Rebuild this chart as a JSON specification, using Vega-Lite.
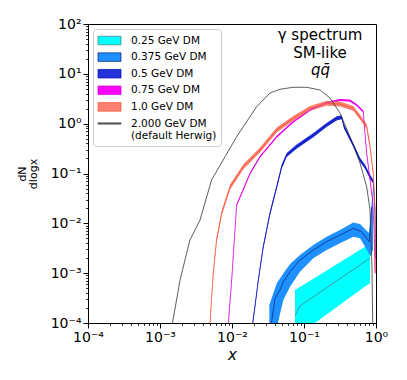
{
  "$schema": "https://vega.github.io/schema/vega-lite/v6.json",
  "width": 288,
  "height": 299,
  "autosize": {"type": "none"},
  "padding": {"left": 88, "top": 24, "right": 31, "bottom": 57},
  "background": "white",
  "config": {
    "view": {"stroke": "black", "strokeWidth": 1},
    "font": "DejaVu Sans",
    "legend": {
      "orient": "top-left",
      "offset": 5,
      "padding": 4,
      "fillColor": "rgba(255,255,255,0.85)",
      "strokeColor": "#cccccc",
      "cornerRadius": 3,
      "symbolSize": 196,
      "symbolOffset": 5,
      "labelOffset": 14,
      "labelFont": "DejaVu Sans",
      "labelFontSize": 10.5,
      "labelColor": "black",
      "rowPadding": 2.6,
      "symbolStrokeWidth": 0,
      "symbolStrokeColor": "transparent"
    }
  },
  "datasets": {
    "bands": [
      {"s": "0.25 GeV DM", "x": 0.075, "lo": 5.1e-5, "hi": 4.6e-4},
      {"s": "0.25 GeV DM", "x": 0.142, "lo": 1.0e-4, "hi": 8.1e-4},
      {"s": "0.25 GeV DM", "x": 0.703, "lo": 5.4e-4, "hi": 3.4e-3},
      {"s": "0.25 GeV DM", "x": 0.826, "lo": 6.3e-4, "hi": 3.5e-3},

      {"s": "0.375 GeV DM", "x": 0.033, "lo": 5.7e-5, "hi": 2.3e-4},
      {"s": "0.375 GeV DM", "x": 0.0418, "lo": 7.9e-5, "hi": 6.25e-4},
      {"s": "0.375 GeV DM", "x": 0.0516, "lo": 2.9e-4, "hi": 9.9e-4},
      {"s": "0.375 GeV DM", "x": 0.064, "lo": 5.35e-4, "hi": 1.53e-3},
      {"s": "0.375 GeV DM", "x": 0.088, "lo": 1.07e-3, "hi": 2.31e-3},
      {"s": "0.375 GeV DM", "x": 0.1346, "lo": 1.99e-3, "hi": 3.67e-3},
      {"s": "0.375 GeV DM", "x": 0.2065, "lo": 2.92e-3, "hi": 5.4e-3},
      {"s": "0.375 GeV DM", "x": 0.3162, "lo": 3.97e-3, "hi": 7.35e-3},
      {"s": "0.375 GeV DM", "x": 0.484, "lo": 5.4e-3, "hi": 1.04e-2},
      {"s": "0.375 GeV DM", "x": 0.6, "lo": 5.0e-3, "hi": 9.7e-3},
      {"s": "0.375 GeV DM", "x": 0.726, "lo": 3.15e-3, "hi": 7.35e-3},
      {"s": "0.375 GeV DM", "x": 0.8, "lo": 2.42e-3, "hi": 6.4e-3},
      {"s": "0.375 GeV DM", "x": 0.843, "lo": 2.21e-3, "hi": 1.47e-2},
      {"s": "0.375 GeV DM", "x": 0.908, "lo": 2.92e-3, "hi": 5.12e-2},

      {"s": "0.5 GeV DM", "x": 0.019, "lo": 7.3e-5, "hi": 8.8e-5},
      {"s": "0.5 GeV DM", "x": 0.0208, "lo": 1.9e-4, "hi": 2.3e-4},
      {"s": "0.5 GeV DM", "x": 0.0232, "lo": 6.6e-4, "hi": 8.0e-4},
      {"s": "0.5 GeV DM", "x": 0.0272, "lo": 3.1e-3, "hi": 3.7e-3},
      {"s": "0.5 GeV DM", "x": 0.0337, "lo": 0.0145, "hi": 0.0175},
      {"s": "0.5 GeV DM", "x": 0.0418, "lo": 0.049, "hi": 0.059},
      {"s": "0.5 GeV DM", "x": 0.049, "lo": 0.125, "hi": 0.151},
      {"s": "0.5 GeV DM", "x": 0.0575, "lo": 0.214, "hi": 0.259},
      {"s": "0.5 GeV DM", "x": 0.079, "lo": 0.314, "hi": 0.38},
      {"s": "0.5 GeV DM", "x": 0.135, "lo": 0.536, "hi": 0.65},
      {"s": "0.5 GeV DM", "x": 0.206, "lo": 0.855, "hi": 1.03},
      {"s": "0.5 GeV DM", "x": 0.284, "lo": 1.16, "hi": 1.41},
      {"s": "0.5 GeV DM", "x": 0.334, "lo": 1.22, "hi": 1.47},
      {"s": "0.5 GeV DM", "x": 0.36, "lo": 0.79, "hi": 0.96},
      {"s": "0.5 GeV DM", "x": 0.412, "lo": 0.536, "hi": 0.65},
      {"s": "0.5 GeV DM", "x": 0.484, "lo": 0.339, "hi": 0.41},
      {"s": "0.5 GeV DM", "x": 0.6, "lo": 0.17, "hi": 0.206},
      {"s": "0.5 GeV DM", "x": 0.703, "lo": 0.125, "hi": 0.151},
      {"s": "0.5 GeV DM", "x": 0.826, "lo": 0.078, "hi": 0.095},
      {"s": "0.5 GeV DM", "x": 0.918, "lo": 0.062, "hi": 0.075},
      {"s": "0.5 GeV DM", "x": 0.968, "lo": 0.0168, "hi": 0.0204},
      {"s": "0.5 GeV DM", "x": 0.985, "lo": 1.8e-3, "hi": 2.2e-3},

      {"s": "0.75 GeV DM", "x": 0.0088, "lo": 7.6e-5, "hi": 8.4e-5},
      {"s": "0.75 GeV DM", "x": 0.0099, "lo": 6.95e-4, "hi": 7.67e-4},
      {"s": "0.75 GeV DM", "x": 0.011, "lo": 6.95e-3, "hi": 7.67e-3},
      {"s": "0.75 GeV DM", "x": 0.0116, "lo": 0.0222, "hi": 0.0245},
      {"s": "0.75 GeV DM", "x": 0.0136, "lo": 0.038, "hi": 0.042},
      {"s": "0.75 GeV DM", "x": 0.0178, "lo": 0.095, "hi": 0.105},
      {"s": "0.75 GeV DM", "x": 0.0245, "lo": 0.207, "hi": 0.228},
      {"s": "0.75 GeV DM", "x": 0.0418, "lo": 0.521, "hi": 0.574},
      {"s": "0.75 GeV DM", "x": 0.071, "lo": 1.04, "hi": 1.14},
      {"s": "0.75 GeV DM", "x": 0.121, "lo": 1.79, "hi": 1.97},
      {"s": "0.75 GeV DM", "x": 0.206, "lo": 2.5, "hi": 2.76},
      {"s": "0.75 GeV DM", "x": 0.316, "lo": 2.84, "hi": 3.13},
      {"s": "0.75 GeV DM", "x": 0.435, "lo": 2.76, "hi": 3.05},
      {"s": "0.75 GeV DM", "x": 0.54, "lo": 2.26, "hi": 2.49},
      {"s": "0.75 GeV DM", "x": 0.667, "lo": 1.66, "hi": 1.83},
      {"s": "0.75 GeV DM", "x": 0.703, "lo": 0.61, "hi": 0.67},
      {"s": "0.75 GeV DM", "x": 0.743, "lo": 0.242, "hi": 0.267},
      {"s": "0.75 GeV DM", "x": 0.826, "lo": 0.0705, "hi": 0.0777},
      {"s": "0.75 GeV DM", "x": 0.9, "lo": 0.0276, "hi": 0.0305},
      {"s": "0.75 GeV DM", "x": 0.94, "lo": 6.95e-3, "hi": 7.67e-3},
      {"s": "0.75 GeV DM", "x": 0.97, "lo": 9.5e-4, "hi": 1.05e-3},

      {"s": "1.0 GeV DM", "x": 0.0049, "lo": 7.1e-5, "hi": 9.0e-5},
      {"s": "1.0 GeV DM", "x": 0.0055, "lo": 8.9e-4, "hi": 1.12e-3},
      {"s": "1.0 GeV DM", "x": 0.0061, "lo": 4.1e-3, "hi": 5.15e-3},
      {"s": "1.0 GeV DM", "x": 0.0072, "lo": 0.0144, "hi": 0.018},
      {"s": "1.0 GeV DM", "x": 0.0094, "lo": 0.048, "hi": 0.06},
      {"s": "1.0 GeV DM", "x": 0.0144, "lo": 0.122, "hi": 0.153},
      {"s": "1.0 GeV DM", "x": 0.0245, "lo": 0.264, "hi": 0.332},
      {"s": "1.0 GeV DM", "x": 0.0418, "lo": 0.666, "hi": 0.836},
      {"s": "1.0 GeV DM", "x": 0.071, "lo": 1.14, "hi": 1.43},
      {"s": "1.0 GeV DM", "x": 0.121, "lo": 1.81, "hi": 2.27},
      {"s": "1.0 GeV DM", "x": 0.206, "lo": 2.29, "hi": 2.87},
      {"s": "1.0 GeV DM", "x": 0.316, "lo": 2.21, "hi": 2.78},
      {"s": "1.0 GeV DM", "x": 0.484, "lo": 1.81, "hi": 2.27},
      {"s": "1.0 GeV DM", "x": 0.6, "lo": 1.21, "hi": 1.51},
      {"s": "1.0 GeV DM", "x": 0.743, "lo": 0.78, "hi": 0.97},
      {"s": "1.0 GeV DM", "x": 0.826, "lo": 0.308, "hi": 0.386},
      {"s": "1.0 GeV DM", "x": 0.918, "lo": 0.089, "hi": 0.112},
      {"s": "1.0 GeV DM", "x": 0.968, "lo": 0.0165, "hi": 0.0207},
      {"s": "1.0 GeV DM", "x": 0.99, "lo": 8.9e-4, "hi": 1.12e-3}
    ],
    "lines": [
      {"s": "0.25 GeV DM", "x": 0.075, "y": 1.4e-4},
      {"s": "0.25 GeV DM", "x": 0.088, "y": 2.2e-4},
      {"s": "0.25 GeV DM", "x": 0.826, "y": 2.0e-3},

      {"s": "0.375 GeV DM", "x": 0.0345, "y": 8e-5},
      {"s": "0.375 GeV DM", "x": 0.0375, "y": 1.8e-4},
      {"s": "0.375 GeV DM", "x": 0.0395, "y": 3.1e-4},
      {"s": "0.375 GeV DM", "x": 0.0464, "y": 4.6e-4},
      {"s": "0.375 GeV DM", "x": 0.0516, "y": 6.7e-4},
      {"s": "0.375 GeV DM", "x": 0.064, "y": 1.07e-3},
      {"s": "0.375 GeV DM", "x": 0.088, "y": 1.84e-3},
      {"s": "0.375 GeV DM", "x": 0.135, "y": 2.9e-3},
      {"s": "0.375 GeV DM", "x": 0.206, "y": 4.3e-3},
      {"s": "0.375 GeV DM", "x": 0.316, "y": 5.8e-3},
      {"s": "0.375 GeV DM", "x": 0.484, "y": 7.9e-3},
      {"s": "0.375 GeV DM", "x": 0.632, "y": 6.8e-3},
      {"s": "0.375 GeV DM", "x": 0.743, "y": 5.0e-3},
      {"s": "0.375 GeV DM", "x": 0.807, "y": 4.3e-3},
      {"s": "0.375 GeV DM", "x": 0.843, "y": 0.01},
      {"s": "0.375 GeV DM", "x": 0.87, "y": 0.0215},

      {"s": "0.5 GeV DM", "x": 0.019, "y": 8e-5},
      {"s": "0.5 GeV DM", "x": 0.0208, "y": 2.1e-4},
      {"s": "0.5 GeV DM", "x": 0.0232, "y": 7.3e-4},
      {"s": "0.5 GeV DM", "x": 0.0272, "y": 3.4e-3},
      {"s": "0.5 GeV DM", "x": 0.0337, "y": 0.0159},
      {"s": "0.5 GeV DM", "x": 0.0418, "y": 0.054},
      {"s": "0.5 GeV DM", "x": 0.049, "y": 0.137},
      {"s": "0.5 GeV DM", "x": 0.0575, "y": 0.235},
      {"s": "0.5 GeV DM", "x": 0.079, "y": 0.345},
      {"s": "0.5 GeV DM", "x": 0.135, "y": 0.59},
      {"s": "0.5 GeV DM", "x": 0.206, "y": 0.94},
      {"s": "0.5 GeV DM", "x": 0.284, "y": 1.28},
      {"s": "0.5 GeV DM", "x": 0.334, "y": 1.34},
      {"s": "0.5 GeV DM", "x": 0.36, "y": 0.87},
      {"s": "0.5 GeV DM", "x": 0.412, "y": 0.59},
      {"s": "0.5 GeV DM", "x": 0.484, "y": 0.373},
      {"s": "0.5 GeV DM", "x": 0.6, "y": 0.187},
      {"s": "0.5 GeV DM", "x": 0.703, "y": 0.137},
      {"s": "0.5 GeV DM", "x": 0.826, "y": 0.086},
      {"s": "0.5 GeV DM", "x": 0.918, "y": 0.068},
      {"s": "0.5 GeV DM", "x": 0.968, "y": 0.0185},
      {"s": "0.5 GeV DM", "x": 0.985, "y": 2e-3},

      {"s": "0.75 GeV DM", "x": 0.0088, "y": 8e-5},
      {"s": "0.75 GeV DM", "x": 0.0099, "y": 7.3e-4},
      {"s": "0.75 GeV DM", "x": 0.011, "y": 7.3e-3},
      {"s": "0.75 GeV DM", "x": 0.0116, "y": 0.0233},
      {"s": "0.75 GeV DM", "x": 0.0136, "y": 0.04},
      {"s": "0.75 GeV DM", "x": 0.0178, "y": 0.1},
      {"s": "0.75 GeV DM", "x": 0.0245, "y": 0.217},
      {"s": "0.75 GeV DM", "x": 0.0418, "y": 0.547},
      {"s": "0.75 GeV DM", "x": 0.071, "y": 1.09},
      {"s": "0.75 GeV DM", "x": 0.121, "y": 1.88},
      {"s": "0.75 GeV DM", "x": 0.206, "y": 2.63},
      {"s": "0.75 GeV DM", "x": 0.316, "y": 2.98},
      {"s": "0.75 GeV DM", "x": 0.435, "y": 2.9},
      {"s": "0.75 GeV DM", "x": 0.54, "y": 2.37},
      {"s": "0.75 GeV DM", "x": 0.667, "y": 1.74},
      {"s": "0.75 GeV DM", "x": 0.703, "y": 0.64},
      {"s": "0.75 GeV DM", "x": 0.743, "y": 0.254},
      {"s": "0.75 GeV DM", "x": 0.826, "y": 0.074},
      {"s": "0.75 GeV DM", "x": 0.9, "y": 0.029},
      {"s": "0.75 GeV DM", "x": 0.94, "y": 7.3e-3},
      {"s": "0.75 GeV DM", "x": 0.97, "y": 1e-3},

      {"s": "1.0 GeV DM", "x": 0.0049, "y": 8e-5},
      {"s": "1.0 GeV DM", "x": 0.0055, "y": 1e-3},
      {"s": "1.0 GeV DM", "x": 0.0061, "y": 4.6e-3},
      {"s": "1.0 GeV DM", "x": 0.0072, "y": 0.0161},
      {"s": "1.0 GeV DM", "x": 0.0094, "y": 0.054},
      {"s": "1.0 GeV DM", "x": 0.0144, "y": 0.137},
      {"s": "1.0 GeV DM", "x": 0.0245, "y": 0.296},
      {"s": "1.0 GeV DM", "x": 0.0418, "y": 0.746},
      {"s": "1.0 GeV DM", "x": 0.071, "y": 1.28},
      {"s": "1.0 GeV DM", "x": 0.121, "y": 2.03},
      {"s": "1.0 GeV DM", "x": 0.206, "y": 2.56},
      {"s": "1.0 GeV DM", "x": 0.316, "y": 2.48},
      {"s": "1.0 GeV DM", "x": 0.484, "y": 2.03},
      {"s": "1.0 GeV DM", "x": 0.6, "y": 1.35},
      {"s": "1.0 GeV DM", "x": 0.743, "y": 0.87},
      {"s": "1.0 GeV DM", "x": 0.826, "y": 0.345},
      {"s": "1.0 GeV DM", "x": 0.918, "y": 0.1},
      {"s": "1.0 GeV DM", "x": 0.968, "y": 0.0185},
      {"s": "1.0 GeV DM", "x": 0.99, "y": 1e-3},

      {"s": "2.000 GeV DM", "x": 0.00145, "y": 8e-5},
      {"s": "2.000 GeV DM", "x": 0.0019, "y": 7.3e-4},
      {"s": "2.000 GeV DM", "x": 0.0026, "y": 4.6e-3},
      {"s": "2.000 GeV DM", "x": 0.0036, "y": 0.0117},
      {"s": "2.000 GeV DM", "x": 0.0052, "y": 0.074},
      {"s": "2.000 GeV DM", "x": 0.0116, "y": 0.547},
      {"s": "2.000 GeV DM", "x": 0.022, "y": 2.19},
      {"s": "2.000 GeV DM", "x": 0.0337, "y": 4.12},
      {"s": "2.000 GeV DM", "x": 0.0464, "y": 4.9},
      {"s": "2.000 GeV DM", "x": 0.0703, "y": 5.37},
      {"s": "2.000 GeV DM", "x": 0.109, "y": 5.37},
      {"s": "2.000 GeV DM", "x": 0.167, "y": 4.73},
      {"s": "2.000 GeV DM", "x": 0.23, "y": 3.27},
      {"s": "2.000 GeV DM", "x": 0.316, "y": 1.64},
      {"s": "2.000 GeV DM", "x": 0.435, "y": 0.547},
      {"s": "2.000 GeV DM", "x": 0.6, "y": 0.162},
      {"s": "2.000 GeV DM", "x": 0.743, "y": 0.054},
      {"s": "2.000 GeV DM", "x": 0.826, "y": 0.0185},
      {"s": "2.000 GeV DM", "x": 0.88, "y": 1.27e-3},
      {"s": "2.000 GeV DM", "x": 0.9, "y": 8e-5}
    ],
    "notes": [
      {"x": 0.167, "y": 60, "t": "γ spectrum"},
      {"x": 0.167, "y": 26, "t": "SM-like"}
    ],
    "notesItalic": [
      {"x": 0.17, "y": 12, "t": "qq̄"}
    ]
  },
  "resolve": {"axis": {"x": "independent", "y": "independent"}},
  "layer": [
    {
      "data": {"name": "bands"},
      "mark": {"type": "area", "clip": true, "stroke": "transparent", "strokeWidth": 0},
      "encoding": {
        "x": {
          "field": "x", "type": "quantitative",
          "scale": {"type": "log", "domain": [0.0001, 1], "nice": false},
          "axis": {
            "orient": "bottom",
            "values": [0.0001, 0.001, 0.01, 0.1, 1],
            "labelExpr": "datum.value < 0.00015 ? '10⁻⁴' : datum.value < 0.0015 ? '10⁻³' : datum.value < 0.015 ? '10⁻²' : datum.value < 0.15 ? '10⁻¹' : '10⁰'",
            "grid": false, "tickSize": 5, "tickWidth": 1, "tickColor": "black",
            "domainColor": "black", "domainWidth": 1,
            "labelFont": "DejaVu Sans", "labelFontSize": 14, "labelColor": "black",
            "labelPadding": 2, "labelFlush": false, "labelOverlap": false,
            "title": "x", "titleFont": "DejaVu Sans", "titleFontSize": 15,
            "titleFontStyle": "italic", "titleFontWeight": "normal", "titleColor": "black",
            "titlePadding": 3
          }
        },
        "y": {
          "field": "lo", "type": "quantitative",
          "scale": {"type": "log", "domain": [0.0001, 100], "nice": false},
          "axis": {
            "orient": "left",
            "values": [0.0001, 0.001, 0.01, 0.1, 1, 10, 100],
            "labelExpr": "datum.value < 0.00015 ? '10⁻⁴' : datum.value < 0.0015 ? '10⁻³' : datum.value < 0.015 ? '10⁻²' : datum.value < 0.15 ? '10⁻¹' : datum.value < 1.5 ? '10⁰' : datum.value < 15 ? '10¹' : '10²'",
            "grid": false, "tickSize": 5, "tickWidth": 1, "tickColor": "black",
            "domainColor": "black", "domainWidth": 1,
            "labelFont": "DejaVu Sans", "labelFontSize": 14, "labelColor": "black",
            "labelPadding": 2, "labelFlush": false, "labelOverlap": false,
            "title": ["dN", "dlogx"], "titleFont": "DejaVu Sans", "titleFontSize": 11,
            "titleFontWeight": "normal", "titleColor": "black", "titleLineHeight": 11,
            "titlePadding": 12
          }
        },
        "y2": {"field": "hi"},
        "fill": {
          "field": "s", "type": "nominal",
          "scale": {
            "domain": ["0.25 GeV DM", "0.375 GeV DM", "0.5 GeV DM", "0.75 GeV DM", "1.0 GeV DM", "2.000 GeV DM"],
            "range": ["#00ffff", "#1e90ff", "#2233d8", "#ff00ff", "#fa8072", "#808080"]
          },
          "legend": {"title": null, "labelExpr": "datum.label == '2.000 GeV DM' ? ['2.000 GeV DM', '(default Herwig)'] : datum.label"}
        }
      }
    },
    {
      "data": {"name": "lines"},
      "mark": {"type": "line", "clip": true},
      "encoding": {
        "x": {
          "field": "x", "type": "quantitative",
          "axis": {
            "orient": "bottom",
            "values": [0.0002, 0.0003, 0.0004, 0.0005, 0.0006, 0.0007, 0.0008, 0.0009, 0.002, 0.003, 0.004, 0.005, 0.006, 0.007, 0.008, 0.009, 0.02, 0.03, 0.04, 0.05, 0.06, 0.07, 0.08, 0.09, 0.2, 0.3, 0.4, 0.5, 0.6, 0.7, 0.8, 0.9],
            "labels": false, "domain": false, "grid": false,
            "tickSize": 2.5, "tickWidth": 0.8, "tickColor": "black", "title": null
          }
        },
        "y": {
          "field": "y", "type": "quantitative",
          "axis": {
            "orient": "left",
            "values": [0.0002, 0.0003, 0.0004, 0.0005, 0.0006, 0.0007, 0.0008, 0.0009, 0.002, 0.003, 0.004, 0.005, 0.006, 0.007, 0.008, 0.009, 0.02, 0.03, 0.04, 0.05, 0.06, 0.07, 0.08, 0.09, 0.2, 0.3, 0.4, 0.5, 0.6, 0.7, 0.8, 0.9, 2, 3, 4, 5, 6, 7, 8, 9, 20, 30, 40, 50, 60, 70, 80, 90],
            "labels": false, "domain": false, "grid": false,
            "tickSize": 2.5, "tickWidth": 0.8, "tickColor": "black", "title": null
          }
        },
        "color": {
          "field": "s", "type": "nominal",
          "scale": {
            "domain": ["0.25 GeV DM", "0.375 GeV DM", "0.5 GeV DM", "0.75 GeV DM", "1.0 GeV DM", "2.000 GeV DM"],
            "range": ["#4a7a7a", "#0b1f7a", "#0a0ab4", "#d400d4", "#ff5533", "#333333"]
          },
          "legend": null
        },
        "strokeWidth": {
          "field": "s", "type": "ordinal",
          "scale": {
            "domain": ["0.25 GeV DM", "0.375 GeV DM", "0.5 GeV DM", "0.75 GeV DM", "1.0 GeV DM", "2.000 GeV DM"],
            "range": [0.7, 0.8, 1.2, 1.2, 1.5, 0.7]
          },
          "legend": null
        }
      }
    },
    {
      "data": {"name": "notes"},
      "mark": {"type": "text", "font": "DejaVu Sans", "fontSize": 15, "align": "center", "baseline": "middle", "color": "black"},
      "encoding": {
        "x": {"field": "x", "type": "quantitative", "axis": null},
        "y": {"field": "y", "type": "quantitative", "axis": null},
        "text": {"field": "t"}
      }
    },
    {
      "data": {"name": "notesItalic"},
      "mark": {"type": "text", "font": "DejaVu Sans", "fontSize": 15, "fontStyle": "italic", "align": "center", "baseline": "middle", "color": "black"},
      "encoding": {
        "x": {"field": "x", "type": "quantitative", "axis": null},
        "y": {"field": "y", "type": "quantitative", "axis": null},
        "text": {"field": "t"}
      }
    },
    {
      "data": {"name": "lines"},
      "transform": [{"filter": "datum.x < 0"}],
      "mark": {"type": "point", "filled": true, "size": 196, "stroke": "transparent", "strokeWidth": 0, "opacity": 1},
      "encoding": {
        "fill": {
          "field": "s", "type": "nominal",
          "scale": {
            "domain": ["0.25 GeV DM", "0.375 GeV DM", "0.5 GeV DM", "0.75 GeV DM", "1.0 GeV DM", "2.000 GeV DM"],
            "range": ["#00ffff", "#1e90ff", "#2233d8", "#ff00ff", "#fa8072", "#808080"]
          },
          "legend": {"title": null, "labelExpr": "datum.label == '2.000 GeV DM' ? ['2.000 GeV DM', '(default Herwig)'] : datum.label"}
        },
        "shape": {
          "field": "s", "type": "nominal",
          "scale": {
            "domain": ["0.25 GeV DM", "0.375 GeV DM", "0.5 GeV DM", "0.75 GeV DM", "1.0 GeV DM", "2.000 GeV DM"],
            "range": ["M-1.64,-0.61H1.64V0.61H-1.64Z", "M-1.64,-0.61H1.64V0.61H-1.64Z", "M-1.64,-0.61H1.64V0.61H-1.64Z", "M-1.64,-0.61H1.64V0.61H-1.64Z", "M-1.64,-0.61H1.64V0.61H-1.64Z", "M-1.64,-0.08H1.64V0.08H-1.64Z"]
          },
          "legend": {"title": null, "labelExpr": "datum.label == '2.000 GeV DM' ? ['2.000 GeV DM', '(default Herwig)'] : datum.label"}
        }
      }
    }
  ]
}
